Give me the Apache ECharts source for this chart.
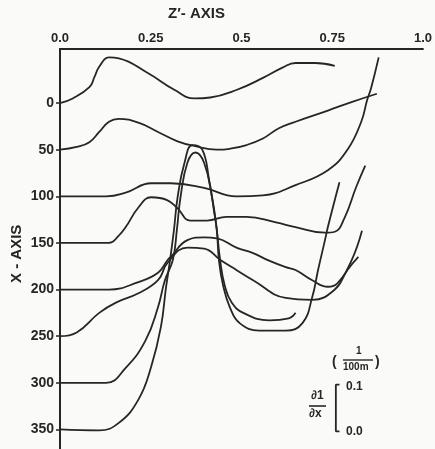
<!DOCTYPE html>
<html>
<head>
<meta charset="utf-8">
<script src="https://cdn.jsdelivr.net/npm/echarts@6/dist/echarts.min.js"></script>
<style>
html,body{margin:0;padding:0;background:#fafaf8;}
#c{width:435px;height:449px;}
</style>
</head>
<body>
<div id="c"></div>
<script>
// Z'-axis tick labels and X-axis tick labels
var zTicks = [0, 0.25, 0.5, 0.75, 1.0];
var zTickLabels = ['0.0', '0.25', '0.5', '0.75', '1.0'];
var xTicks = [0, 50, 100, 150, 200, 250, 300, 350];

// curves: [z', plotted X position] (baseline X minus scaled dl/dx)
var curve0 = [[0,0],[0.035,-5],[0.081,-17],[0.095,-28],[0.108,-39],[0.135,-49],[0.162,-48],[0.243,-32],[0.316,-14],[0.370,-5],[0.414,-6],[0.486,-14],[0.559,-27],[0.613,-38],[0.649,-43],[0.703,-43],[0.757,-40]];
var curve50 = [[0,50],[0.046,47],[0.081,42],[0.108,31],[0.135,20],[0.162,17],[0.216,21],[0.270,31],[0.324,41],[0.370,46],[0.432,50],[0.468,49],[0.514,45],[0.559,38],[0.603,27],[0.649,20],[0.738,8],[0.803,-1],[0.873,-10]];
var curve100 = [[0,100],[0.127,100],[0.181,96],[0.251,86],[0.305,86],[0.397,91],[0.486,100],[0.559,99],[0.649,88],[0.738,72],[0.792,50],[0.830,20],[0.846,-3],[0.857,-16],[0.878,-49]];
var curve150 = [[0,150],[0.135,150],[0.160,143],[0.181,133],[0.216,112],[0.251,101],[0.295,104],[0.324,113],[0.359,126],[0.405,126],[0.459,122],[0.514,122],[0.595,128],[0.649,133],[0.730,139],[0.757,138],[0.784,123],[0.816,90],[0.841,67]];
var curve200 = [[0,200],[0.135,200],[0.216,192],[0.270,182],[0.297,168],[0.305,165],[0.351,147],[0.397,144],[0.432,145],[0.486,155],[0.532,161],[0.576,169],[0.622,176],[0.649,179],[0.695,190],[0.738,197],[0.765,193],[0.803,169],[0.832,137]];
var curve250 = [[0,250],[0.046,246],[0.108,225],[0.154,214],[0.216,204],[0.270,190],[0.297,171],[0.351,155],[0.397,156],[0.441,168],[0.486,179],[0.532,190],[0.622,209],[0.695,211],[0.757,200],[0.792,179],[0.822,165]];
var curve300 = [[0,300],[0.127,300],[0.181,284],[0.235,255],[0.270,219],[0.289,190],[0.311,168],[0.322,136],[0.332,101],[0.351,64],[0.373,53],[0.397,64],[0.419,101],[0.432,136],[0.441,168],[0.454,196],[0.473,214],[0.505,225],[0.576,233],[0.630,231],[0.649,225]];
var curve350 = [[0,350],[0.108,351],[0.162,343],[0.216,318],[0.251,283],[0.278,240],[0.292,198],[0.303,169],[0.314,136],[0.324,101],[0.343,64],[0.365,45],[0.392,50],[0.411,83],[0.424,115],[0.432,136],[0.438,169],[0.449,195],[0.468,219],[0.495,236],[0.549,244],[0.622,244],[0.668,236],[0.695,208],[0.711,179],[0.730,147],[0.738,133],[0.770,85]];

// scale bar: 0.1 of dl/dx (1/100m) spans 50 X-units
var scaleBar = [[0.770,302],[0.760,302],[0.760,352],[0.770,352]];

var curves = [curve0, curve50, curve100, curve150, curve200, curve250, curve300, curve350];

var ink = '#262626';
var font = 'Liberation Sans';
var chart = echarts.init(document.getElementById('c'));

var series = curves.map(function (d) {
  return {
    type: 'line', data: d, showSymbol: false, symbol: 'none',
    smooth: 0.45,
    lineStyle: { color: ink, width: 1.8 }, silent: true, animation: false
  };
});
series.push({
  type: 'line', data: scaleBar, showSymbol: false, symbol: 'none', smooth: false,
  lineStyle: { color: ink, width: 1.8 }, silent: true, animation: false
});

chart.setOption({
  backgroundColor: '#fafaf8',
  animation: false,
  grid: { left: 60, top: 49, width: 370, height: 400, containLabel: false },
  xAxis: {
    type: 'value', position: 'top', min: 0, max: 1, interval: 0.25,
    axisLine: { show: true, onZero: false, lineStyle: { color: ink, width: 2 } },
    axisTick: { show: false },
    splitLine: { show: false },
    axisLabel: {
      margin: 4, color: ink, fontFamily: font, fontWeight: 'bold', fontSize: 13,
      formatter: function (v) { var i = zTicks.indexOf(v); return i >= 0 ? zTickLabels[i] : ''; }
    }
  },
  yAxis: {
    type: 'value', inverse: true, min: -58, max: 371,
    axisLine: { show: true, onZero: false, lineStyle: { color: ink, width: 2 } },
    axisTick: { show: true, customValues: xTicks, length: 4, lineStyle: { color: ink, width: 1.5 } },
    splitLine: { show: false },
    axisLabel: {
      customValues: xTicks, margin: 6, color: ink, fontFamily: font, fontWeight: 'bold', fontSize: 14
    }
  },
  graphic: [
    { type: 'text', left: 168, top: 6, style: { text: 'Z\u2032- AXIS', fill: ink, font: 'bold 15px "Liberation Sans"' } },
    { type: 'text', x: 9, y: 283, rotation: Math.PI / 2, style: { text: 'X - AXIS', fill: ink, font: 'bold 15px "Liberation Sans"' } },
    { type: 'text', x: 311, y: 390, style: { text: '\u22021', fill: ink, font: 'bold 12px "Liberation Sans"' } },
    { type: 'line', shape: { x1: 309, y1: 406, x2: 326, y2: 406 }, style: { stroke: ink, lineWidth: 1.6 } },
    { type: 'text', x: 309, y: 408, style: { text: '\u2202x', fill: ink, font: 'bold 12px "Liberation Sans"' } },
    { type: 'text', x: 346, y: 381, style: { text: '0.1', fill: ink, font: 'bold 12px "Liberation Sans"' } },
    { type: 'text', x: 346, y: 426, style: { text: '0.0', fill: ink, font: 'bold 12px "Liberation Sans"' } },
    { type: 'text', x: 332, y: 355, style: { text: '(', fill: ink, font: 'bold 14px "Liberation Sans"' } },
    { type: 'text', x: 356, y: 346, style: { text: '1', fill: ink, font: 'bold 10px "Liberation Sans"' } },
    { type: 'line', shape: { x1: 343, y1: 360, x2: 373, y2: 360 }, style: { stroke: ink, lineWidth: 1.4 } },
    { type: 'text', x: 343, y: 362, style: { text: '100m', fill: ink, font: 'bold 10px "Liberation Sans"' } },
    { type: 'text', x: 375, y: 355, style: { text: ')', fill: ink, font: 'bold 14px "Liberation Sans"' } }
  ],
  series: series
});
</script>
</body>
</html>
